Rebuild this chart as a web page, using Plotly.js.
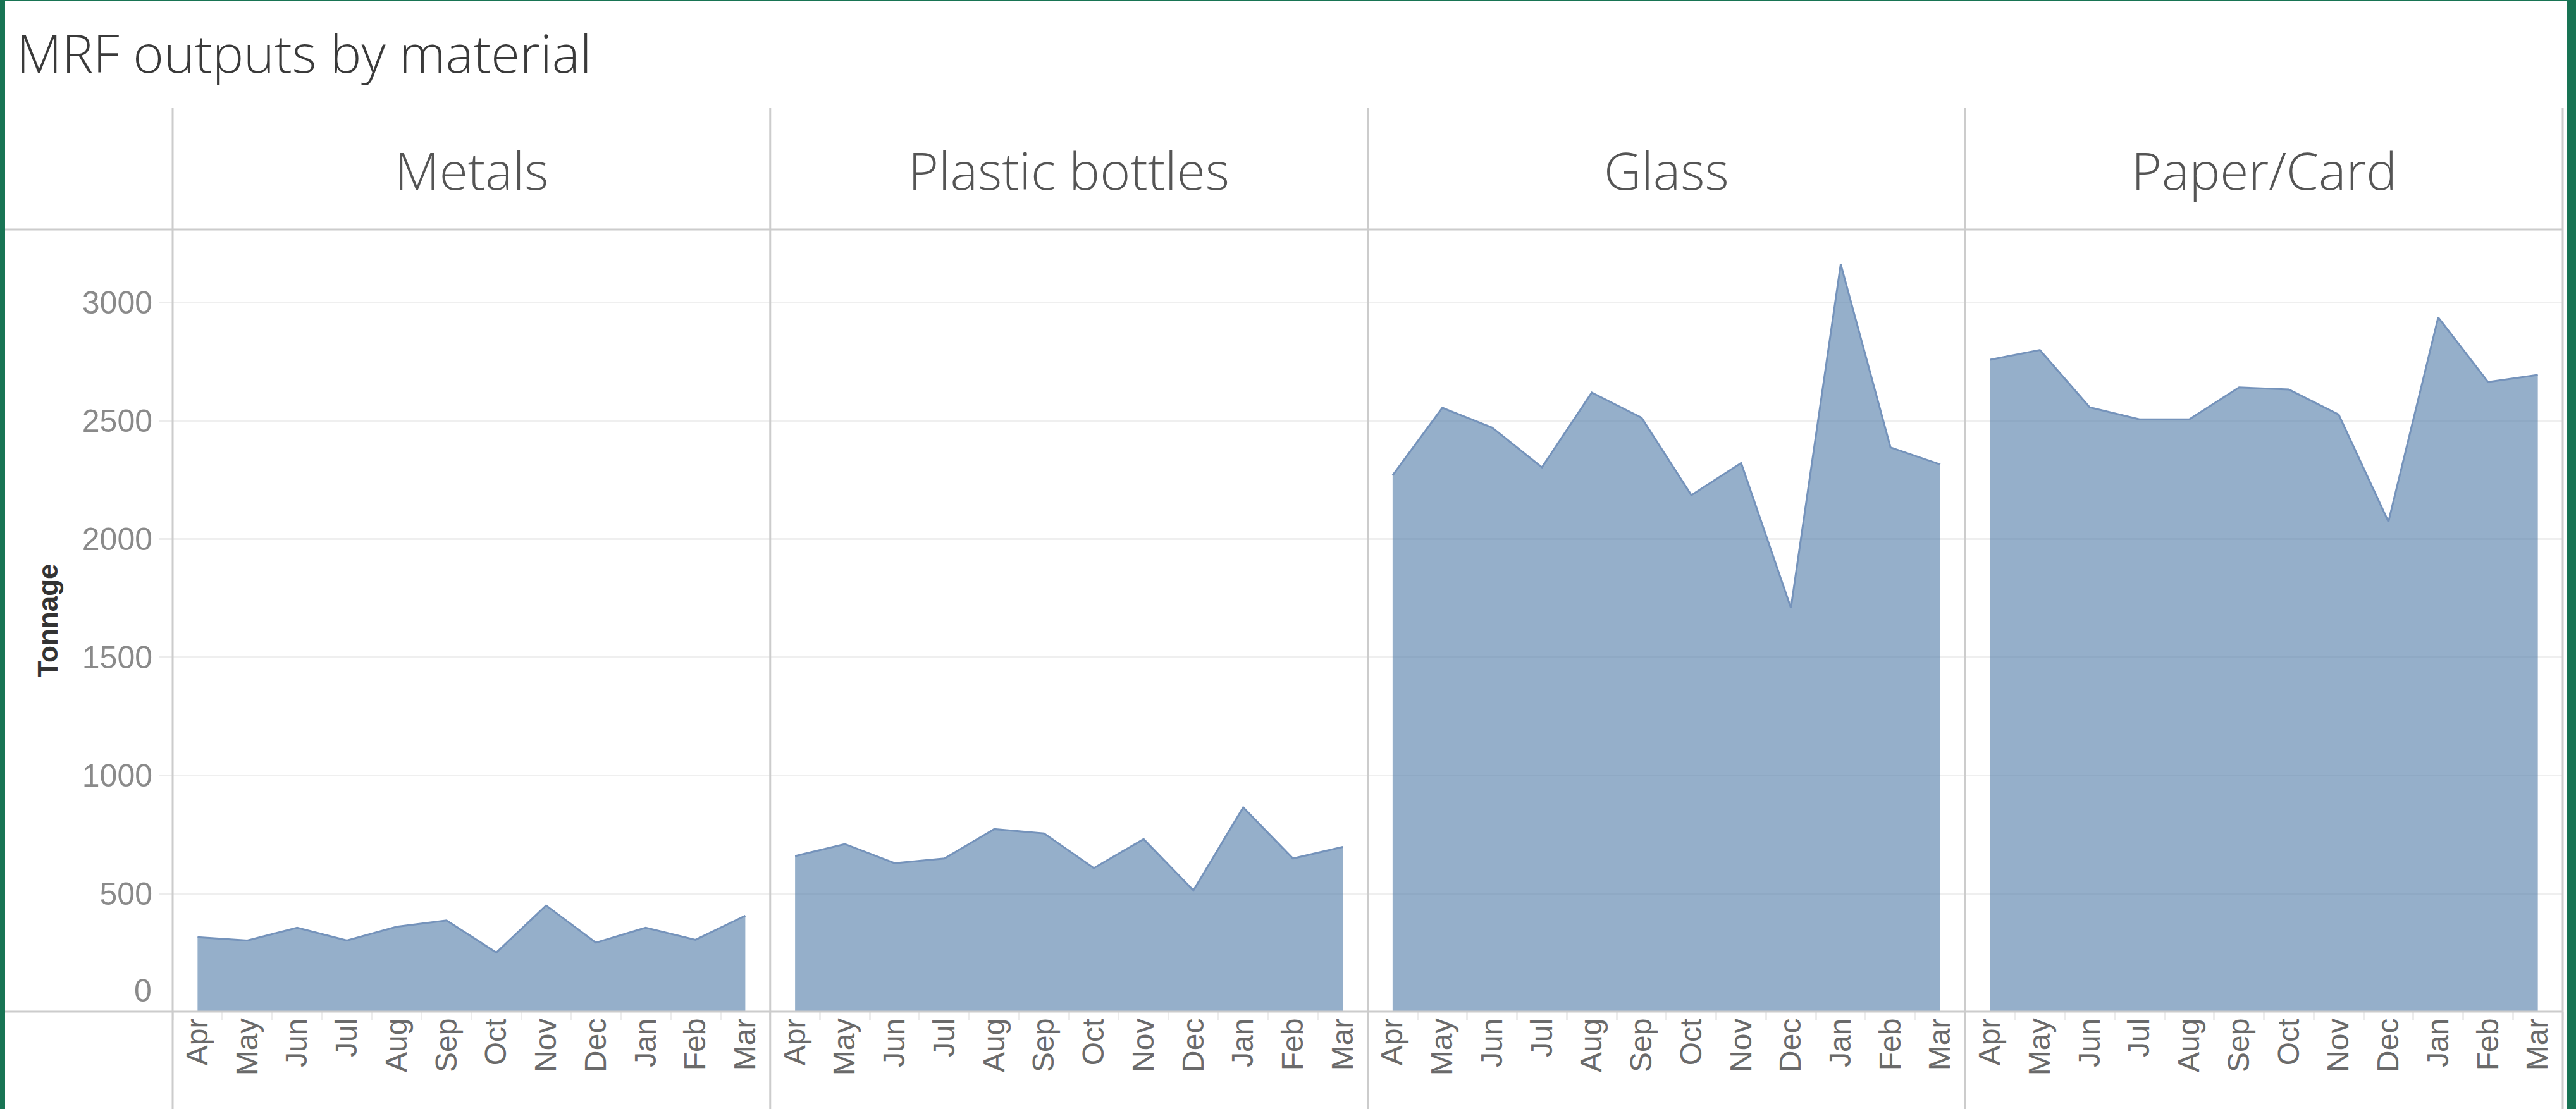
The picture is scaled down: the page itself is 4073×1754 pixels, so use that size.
<!DOCTYPE html>
<html>
<head>
<meta charset="utf-8">
<script src="https://cdn.plot.ly/plotly-3.0.1.min.js"></script>
<style>
  html, body { margin: 0; padding: 0; background: #ffffff; }
  #chart { width: 4073px; height: 1754px; }
</style>
</head>
<body>
<div id="chart"></div>
<script>
// ---- data ----
const months = ["Apr", "May", "Jun", "Jul", "Aug", "Sep", "Oct", "Nov", "Dec", "Jan", "Feb", "Mar"];
const materials = ["Metals", "Plastic bottles", "Glass", "Paper/Card"];
const metals   = [315, 301, 355, 301, 359, 386, 250, 449, 292, 355, 304, 406];
const plastic  = [658, 709, 628, 648, 772, 754, 607, 730, 513, 864, 648, 697];
const glass    = [2269, 2555, 2471, 2303, 2619, 2513, 2185, 2321, 1708, 3162, 2387, 2315];
const paper    = [2758, 2799, 2557, 2506, 2506, 2641, 2632, 2526, 2073, 2937, 2664, 2694];
const yTicks   = [0, 500, 1000, 1500, 2000, 2500, 3000];
const series = [metals, plastic, glass, paper];

// ---- layout constants (pixels) ----
const W = 4073, H = 1754;
const L = 273, R = 4052, T = 363, B = 1600;
const HEADER_TOP = 171;
const px2x = p => (p - L) / (R - L);
const px2y = p => (B - p) / (B - T);

const yMax = 3309;
const fillColor = "rgba(78,121,167,0.6)";
const lineColor = "#7593bb";
const divider = "#cccccc";
const tickFont = "Liberation Sans, Arial, sans-serif";
const headFont = "Open Sans, sans-serif";

const n = materials.length;
const traces = series.map((vals, i) => ({
  type: "scatter",
  mode: "lines",
  x: months,
  y: vals,
  name: materials[i],
  xaxis: i === 0 ? "x" : "x" + (i + 1),
  yaxis: "y",
  fill: "tozeroy",
  fillcolor: fillColor,
  line: { color: lineColor, width: 3, shape: "linear" },
  hoverinfo: "x+y",
  showlegend: false
}));

const layout = {
  width: W, height: H,
  margin: { l: L, r: W - R, t: T, b: H - B, pad: 0 },
  paper_bgcolor: "#ffffff",
  plot_bgcolor: "rgba(0,0,0,0)",
  showlegend: false,
  title: {
    text: "MRF outputs by material",
    font: { family: headFont, size: 83, color: "#3a3a3a", weight: 300 },
    xref: "container", x: 26 / W, xanchor: "left",
    yref: "container", y: 1 - 86 / H, yanchor: "middle"
  },
  yaxis: {
    anchor: "x",
    range: [0, yMax],
    tickvals: yTicks.filter(v => v !== 0),
    tickfont: { family: tickFont, size: 50, color: "#8a8a8a" },
    ticks: "outside", ticklen: 21, tickwidth: 3, tickcolor: "#ececec",
    ticklabelstandoff: 0,
    showgrid: true, gridcolor: "#efefef", gridwidth: 3,
    zeroline: false, showline: false,
    title: { text: "Tonnage", font: { family: tickFont, size: 44, color: "#333333", weight: "bold" }, standoff: 24 },
    fixedrange: true
  },
  annotations: [],
  shapes: []
};

for (let i = 0; i < n; i++) {
  const key = i === 0 ? "xaxis" : "xaxis" + (i + 1);
  layout[key] = {
    domain: [i / n, (i + 1) / n],
    anchor: "y",
    type: "category",
    categoryorder: "array",
    categoryarray: months,
    range: [-0.5, months.length - 0.5],
    tickangle: -90,
    tickfont: { family: tickFont, size: 48, color: "#6a6a6a" },
    ticks: "outside", tickson: "boundaries", ticklen: 13, tickwidth: 3, tickcolor: "#ececec",
    showgrid: false, zeroline: false, showline: false,
    fixedrange: true
  };
  layout.annotations.push({
    text: materials[i],
    xref: "paper", yref: "paper",
    x: (i + 0.5) / n, y: px2y(268),
    xanchor: "center", yanchor: "middle",
    showarrow: false,
    font: { family: headFont, size: 82, color: "#555555", weight: 300 }
  });
}

// bottom "0" label placed like the reference (lifted above the baseline)
layout.annotations.push({
  text: String(yTicks[0]),
  xref: "paper", yref: "paper",
  x: px2x(242), y: px2y(1567),
  xanchor: "right", yanchor: "middle",
  showarrow: false,
  font: { family: tickFont, size: 50, color: "#8a8a8a" }
});

// frame lines
const line = (x0, y0, x1, y1, color, w) => ({
  type: "line", xref: "paper", yref: "paper",
  x0: px2x(x0), y0: px2y(y0), x1: px2x(x1), y1: px2y(y1),
  line: { color: color, width: w }, layer: "above"
});
layout.shapes.push(line(8, T, R, T, divider, 3));
layout.shapes.push(line(8, B, R, B, divider, 3));
for (let i = 0; i <= n; i++) {
  const xp = L + (R - L) * i / n;
  layout.shapes.push(line(xp, HEADER_TOP, xp, H, divider, 3));
}
// green frame
const rect = (x0, y0, x1, y1, color) => ({
  type: "rect", xref: "paper", yref: "paper",
  x0: px2x(x0), y0: px2y(y0), x1: px2x(x1), y1: px2y(y1),
  line: { width: 0 }, fillcolor: color, layer: "above"
});
const green = "#187454";
layout.shapes.push(rect(0, 0, 8, H, green));
layout.shapes.push(rect(4058, 0, W, H, green));
layout.shapes.push(rect(0, 0, W, 2, green));

Plotly.newPlot("chart", traces, layout, { displayModeBar: false, staticPlot: true });
</script>
</body>
</html>
